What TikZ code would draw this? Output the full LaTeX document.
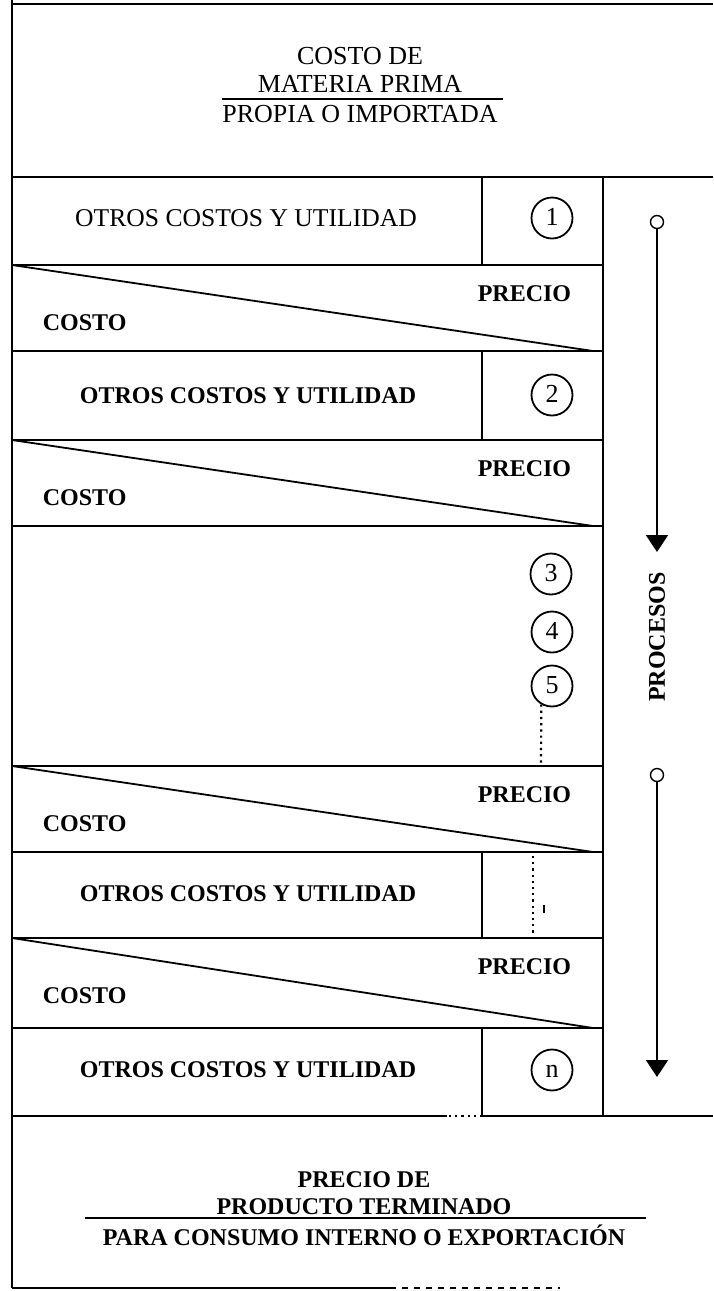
\documentclass[tikz,border=0pt]{standalone}
\usepackage{fontspec}
\setmainfont{Liberation Serif}
\usetikzlibrary{arrows.meta,positioning}

\begin{document}
\begin{tikzpicture}[
  x=0.5pt, y=-0.5pt,
  >={Triangle[width=11pt,length=8.5pt]},
  line width=0.9pt,
  every node/.style={font=\bfseries\fontsize{12}{14}\selectfont, inner sep=0pt, text height=7.9pt, text depth=0pt},
  plain/.style={font=\fontsize{13}{15}\selectfont},
  rowtxt/.style={font=\fontsize{12.8}{15}\selectfont},
  num/.style={draw, circle, minimum size=20.5pt, font=\fontsize{13}{15}\selectfont},
  knob/.style={draw, circle, minimum size=6.5pt, text height=0pt, line width=0.7pt},
  dots/.style={dotted, line width=1.1pt}
]
\useasboundingbox (0,0) rectangle (713,1291);

% Frame
\draw (12,0) -- (12,1288);
\draw (12,4) -- (713,4);
\draw (12,177) -- (713,177);
\draw (603,177) -- (603,1116);
\draw (12,1116) -- (447,1116);
\draw[dots] (449,1116) -- (478,1116);
\draw (480,1116) -- (713,1116);
\draw (12,1288) -- (390,1288);
\draw[dashed] (390,1288) -- (560,1288);

% Rows
\foreach \y in {265,351,440,526,766,852,938,1028}
  \draw (12,\y) -- (603,\y);
\foreach \a/\b in {177/265,351/440,852/938,1028/1116}
  \draw (482,\a) -- (482,\b);
\foreach \a/\b [count=\i] in {265/351,440/526,766/852,938/1028} {
  \draw (12,\a) -- (593,\b);
  \node (P\i) [anchor=east] at (572,\a+29) {PRECIO};
  \node (C\i) [anchor=west] at (42,\a+58) {COSTO};
}

% Nodes
\node (CD)  [plain] at (360,57)  {COSTO DE};
\node (MP)  [plain] at (360,85)  {MATERIA PRIMA};
\node (PI)  [plain] at (360,115) {PROPIA O IMPORTADA};
\draw (222,99) -- (503,99);

\node (O1) [rowtxt] at (246,219) {OTROS COSTOS Y UTILIDAD};
\node (O2) at (248,396)  {OTROS COSTOS Y UTILIDAD};
\node (O3) at (248,894)  {OTROS COSTOS Y UTILIDAD};
\node (O4) at (248,1070) {OTROS COSTOS Y UTILIDAD};

\node (K1) [num] at (552,218)  {1};
\node (K2) [num] at (552,395)  {2};
\node (K3) [num] at (551,574)  {3};
\node (K4) [num] at (552,632)  {4};
\node (K5) [num] at (552,686)  {5};
\node (Kn) [num] at (552,1070) {n};

\coordinate (D5) at (541,764);
\draw[dots] (K5.240) -- (D5);
\coordinate (D6a) at (533,856);
\coordinate (D6b) at (533,934);
\draw[dots] (D6a) -- (D6b);
\draw[line width=0.6pt] (544,905) -- (544,913);

\node (PF) at (364,1180) {PRECIO DE};
\node (PT) at (364,1207) {PRODUCTO TERMINADO};
\node (PC) at (364,1238) {PARA CONSUMO INTERNO O EXPORTACIÓN};
\draw (85,1218) -- (646,1218);

% Arrows + labels
\node (S1) [knob] at (657,222) {};
\coordinate (E1) at (657,552);
\draw[->] (S1) -- (E1);
\node (PR) [rotate=90] at (657,637) {PROCESOS};
\node (S2) [knob] at (657,775) {};
\coordinate (E2) at (657,1077);
\draw[->] (S2) -- (E2);

\end{tikzpicture}
\end{document}
